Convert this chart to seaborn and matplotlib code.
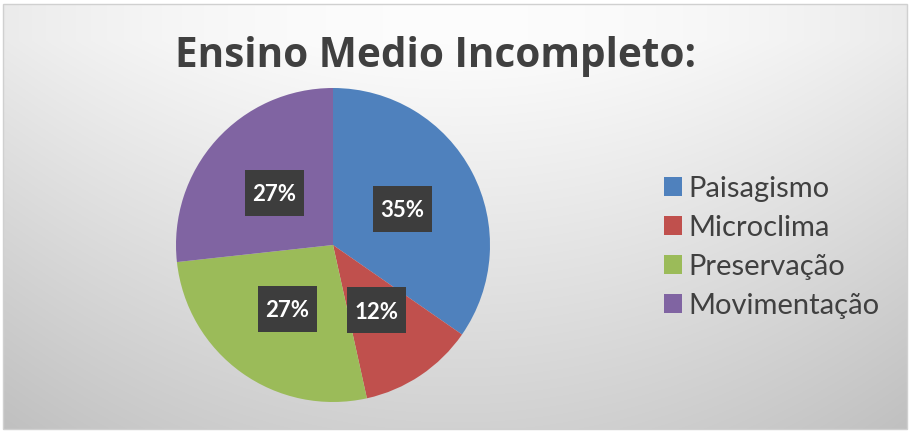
import numpy as np
import matplotlib
matplotlib.use("Agg")
import matplotlib.pyplot as plt
from matplotlib.patches import Rectangle
import seaborn as sns

# ---- data ----
categories = ["Paisagismo", "Microclima", "Preservação", "Movimentação"]
percent_values = [35, 12, 27, 27]
label_texts = ["35%", "12%", "27%", "27%"]
title_text = "Ensino Medio Incompleto:"
slice_colors = ["#4F81BD", "#C0504D", "#9BBB59", "#8064A2"]

sns.set_theme(style="white")
plt.rcParams["font.family"] = ["Lato", "DejaVu Sans"]

W, H = 909, 433
fig = plt.figure(figsize=(W / 100, H / 100), dpi=100)
fig.patch.set_facecolor("white")

# background gradient panel
bg = fig.add_axes([0, 0, 1, 1])
bg.axis("off")
xx, yy = np.meshgrid(np.arange(3, 907), np.arange(4, 429))
val = 0.99 - 0.07 * ((xx - 455) / 455.0) ** 2 - 0.17 * ((yy - 40).clip(0) / 390.0)
img = np.dstack([val, val, val])
bg.imshow(img, extent=(3, 907, 429, 4), aspect="auto", interpolation="bilinear")
bg.add_patch(Rectangle((3, 4), 904, 425, fill=False, edgecolor="#d0d0d0", lw=1))
bg.set_xlim(0, W)
bg.set_ylim(H, 0)

# title
fig.text(436 / W, 1 - 67 / H, title_text, ha="center", va="baseline",
         fontsize=29.2, fontweight="bold", color="#404040",
         family=["Open Sans", "DejaVu Sans"])

# pie
cx, cy, r = 333, 245, 157
ax = fig.add_axes([(cx - r) / W, (H - cy - r) / H, 2 * r / W, 2 * r / H])
palette = sns.color_palette(slice_colors)
wedges, _ = ax.pie(percent_values, colors=palette, startangle=90, counterclock=False,
                   radius=1.0, wedgeprops=dict(linewidth=0))
ax.set_xlim(-1, 1)
ax.set_ylim(-1, 1)
ax.set_aspect("equal")
ax.axis("off")

bw, bh = 59 / r, 46 / r  # label box size in axis units
for w, t in zip(wedges, label_texts):
    ang = np.deg2rad((w.theta1 + w.theta2) / 2)
    d = 0.5
    x, y = d * np.cos(ang), d * np.sin(ang)
    ax.add_patch(Rectangle((x - bw / 2, y - bh / 2), bw, bh,
                           facecolor="#3d3d3d", edgecolor="none", zorder=3))
    ax.text(x, y, t, ha="center", va="center_baseline",
            fontsize=16, fontweight="bold", color="white", zorder=4)

leg = fig.legend(wedges, categories, loc="center left",
                 bbox_to_anchor=(664 / W, 1 - 247.5 / H), frameon=False,
                 fontsize=21, handlelength=0.62, handleheight=0.62,
                 handletextpad=0.2, labelspacing=0.45, borderpad=0, borderaxespad=0)
for txt in leg.get_texts():
    txt.set_color("#404040")

fig.savefig("out.png", dpi=100)
